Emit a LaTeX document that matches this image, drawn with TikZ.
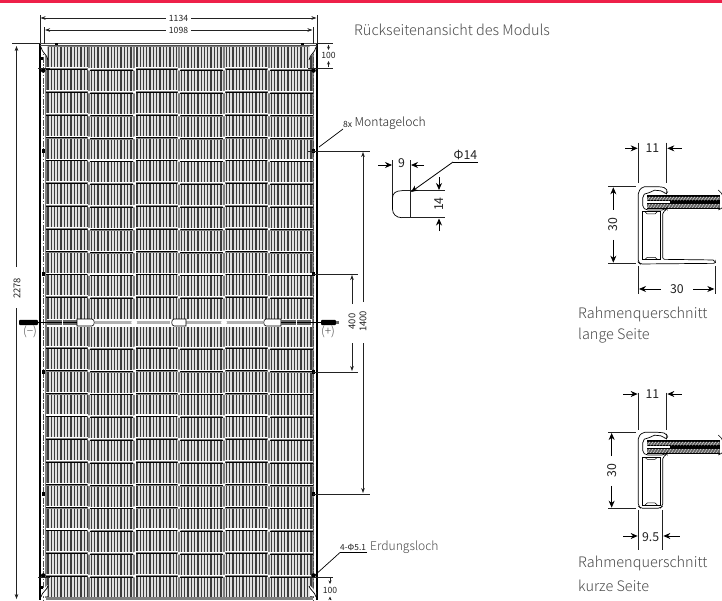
\documentclass[tikz,border=0pt]{standalone}
\usepackage{fontspec}
\setmainfont{Noto Sans CJK SC Light}
\newfontfamily\regfont{Noto Sans CJK SC}
\usetikzlibrary{arrows.meta}
\definecolor{txt}{HTML}{4A4A4A}
\definecolor{dimc}{HTML}{222222}
\definecolor{topbar}{HTML}{EE2049}
\tikzset{
  dimline/.style={draw=dimc,line width=.6pt},
  extline/.style={draw=dimc,line width=.7pt},
  arr/.style={dimline,-{Stealth[length=5pt,width=3.6pt]}},
  bigarr/.style={draw=black,line width=.8pt,-{Stealth[length=7pt,width=6pt]}},
  dimtext/.style={text=dimc,font=\regfont\fontsize{8.6}{10}\selectfont,inner sep=0pt},
  rottext/.style={text=dimc,font=\regfont\fontsize{9.4}{10}\selectfont,inner sep=0pt,rotate=90},
  bigtext/.style={text=dimc,font=\regfont\fontsize{12.3}{14}\selectfont,inner sep=0pt},
  label/.style={text=txt,font=\fontsize{12.1}{15}\selectfont,inner sep=0pt,anchor=west},
  caption/.style={text=txt,font=\fontsize{14.45}{17}\selectfont,inner sep=0pt,anchor=west},
  hole/.style={fill=black,draw=none},
}
\newcommand{\glassband}[2]{%
  \fill[black] (230,195) rectangle (#1,238);
  \fill[black!62] (230,200) rectangle (#1,211);
  \fill[black!62] (230,222) rectangle (#1,233);
  \foreach \gx in {232,241,...,#2}{
    \draw[white,line width=.35pt] (\gx,211) -- (\gx+8,200);
    \draw[white,line width=.35pt] (\gx,233) -- (\gx+8,222);
  }
  \fill[white] (230,213.5) rectangle (300,219);
  \draw[black,line width=.6pt] (445,180) .. controls (455,190) .. (458,197);
  \draw[black,line width=.6pt] (445,240) .. controls (452,238) and (454,234) .. (458,232);
}
\begin{document}
\begin{tikzpicture}[x=1pt,y=-1pt]
\useasboundingbox (0,0) rectangle (722,600);
\fill[white] (0,0) rectangle (722,600);
\fill[topbar] (0,0) rectangle (722,3);

% ---- panel cells
\foreach \xa/\xb in {46.5/88,90/133,135.5/178,180/223,225/268,270/312}{
  \fill[black!12] (\xa,47) rectangle (\xb,598);
  \pgfmathsetmacro{\xs}{\xa+1.4}
  \pgfmathsetmacro{\xn}{\xs+3.3}
  \foreach \sx in {\xs,\xn,...,\xb}{
    \draw[black!76,line width=1.3pt] (\sx,47) -- (\sx,598);
  }
}
% gaps between columns
\foreach \gx in {89,134.2,179,224,269}{
  \fill[black!50] (\gx-1.2,46) rectangle (\gx+1.2,598);
}
\fill[black!50] (44.5,46) rectangle (47,598);
\fill[black!50] (312,46) rectangle (313.5,598);
% row separators
\foreach \ry in {69.3,92.1,114.9,137.7,160.5,183.3,206.1,228.9,251.7,274.5,297.3,348,370.8,393.6,416.4,439.2,462,484.8,507.6,530.4,553.2,576}{
  \foreach \ca/\cb/\off in {46/88/0,90/133/.9,135.5/178/0,180/223/.9,225/268/0,270/313/.9}{
    \fill[white] (\ca,\ry+\off-2) rectangle (\cb,\ry+\off-.9);
    \fill[black!50] (\ca,\ry+\off-.9) rectangle (\cb,\ry+\off+.9);
    \draw[black,line width=.7pt] (\ca,\ry+\off) -- (\cb,\ry+\off);
  }
  \foreach \gx in {89,134.2,179,224,269}{
    \fill[white] (\gx,\ry) circle (1.6);
  }
}
\fill[black!50] (46,45) rectangle (313,47);
\fill[black!50] (46,597) rectangle (313,600);
% central strip
\fill[white] (47,318.5) rectangle (312,326.5);
\fill[black!60] (47,320) rectangle (77,325);
\draw[black,line width=.8pt] (47,322.5) -- (77,322.5);
\fill[white] (62,319) rectangle (63,326);
\draw[black,fill=white,line width=.6pt] (77,319) -- (92,319) .. controls (95,319) and (95,326) .. (92,326) -- (77,326) -- cycle;
\fill[black!30] (95,321.2) rectangle (170,323.8);
\fill[black!30] (186,321.2) rectangle (263,323.8);
\draw[black,fill=white,line width=.6pt] (174,319) -- (186,319) -- (186,326) -- (174,326) .. controls (171,326) and (171,319) .. (174,319);
\draw[black,fill=white,line width=.6pt] (281,319) -- (266,319) .. controls (263,319) and (263,326) .. (266,326) -- (281,326) -- cycle;
\fill[black!60] (281,320) rectangle (311,325);
\draw[black,line width=.8pt] (281,322.5) -- (311,322.5);
\fill[white] (296,319) rectangle (297,326);
\foreach \gx in {134.2,224}{\fill[white] (\gx,322.5) circle (3);}

% ---- frame
\draw[black,line width=1.5pt] (40,43) -- (40,600);
\draw[black,line width=1.5pt] (317,43) -- (317,600);
\draw[black!70,line width=.8pt] (37,43) -- (320,43);
\draw[black!70,line width=.6pt] (40,45.4) -- (317,45.4);
\fill[white] (41,46) rectangle (44.5,600);
\fill[white] (313.5,46) rectangle (316,600);
\draw[black!70,line width=.7pt,dash pattern=on 6pt off 1.5pt on 1.5pt off 1.5pt] (43.5,46) -- (43.5,600);
\draw[black!70,line width=.7pt,dash pattern=on 6pt off 1.5pt on 1.5pt off 1.5pt] (313.5,46) -- (313.5,600);
\fill[white] (41,46) -- (47.5,46) -- (47.5,58) -- (41,50) -- cycle;
\fill[white] (316,46) -- (309.5,46) -- (309.5,58) -- (316,50) -- cycle;
\draw[black,line width=.7pt] (41,47) .. controls (42,53) and (47,54) .. (48,60);
\draw[black,line width=.7pt] (316,47) .. controls (315,53) and (310,54) .. (309,60);
\fill[white] (41,596) -- (47.5,596) -- (47.5,585) -- (41,592) -- cycle;
\fill[white] (316,596) -- (309.5,596) -- (309.5,585) -- (316,592) -- cycle;
\draw[black,line width=.7pt] (41,597) .. controls (42,592) and (47,590) .. (48,586);
\draw[black,line width=.7pt] (316,597) .. controls (315,592) and (310,590) .. (309,586);
\fill[black] (55,42.5) rectangle (58,45);
\fill[black] (301,42.5) rectangle (304,45);
\fill[black] (41,57) rectangle (42.5,59.5);
\fill[black] (315.5,57) rectangle (317,59.5);
\fill[black] (41,586) rectangle (42.5,588.5);
\fill[black] (315.5,586) rectangle (317,588.5);

% ---- holes
\foreach \hx in {43.2,313.5}{
  \foreach \hy in {151,274,372,494}{
    \fill[black] (\hx-1.7,\hy-1.7) rectangle (\hx+1.7,\hy+1.7);
  }
  \fill[black] (\hx,70.5) circle (2.3);
  \fill[black] (\hx,575.5) circle (2.3);
}
\draw[extline] (38,68) -- (50,68);
\draw[extline] (38,577) -- (50,577);

% ---- cables
\draw[black,line width=.9pt] (37,322.5) -- (47,322.5);
\fill[black,rounded corners=1pt] (19,319.8) rectangle (38,325.2);
\draw[black,line width=.9pt] (311,322.5) -- (321,322.5);
\fill[black,rounded corners=1pt] (321,319.8) rectangle (336,325.2);
\fill[black!60] (336,321.2) rectangle (339,323.8);
\node[text=txt,inner sep=0pt,font=\fontsize{12}{13}\selectfont] (minus) at (30,331.8) {(−)};
\node[text=txt,inner sep=0pt,font=\fontsize{12}{13}\selectfont] (plus) at (328,331.8) {(+)};

% ---- dims: top
\draw[extline] (40,15) -- (40,43);
\draw[extline] (317,15) -- (317,43);
\draw[extline] (44.5,27) -- (44.5,44);
\draw[extline] (313,27) -- (313,44);
\node[dimtext] (d1134) at (178.5,18) {1134};
\node[dimtext] (d1098) at (178.5,30) {1098};
\draw[arr] (d1134.west)++(-3,0) -- (40.6,18);
\draw[arr] (d1134.east)++(3,0) -- (316.4,18);
\draw[arr] (d1098.west)++(-3,0) -- (45.1,30);
\draw[arr] (d1098.east)++(3,0) -- (312.4,30);

% ---- dims: 2278
\draw[extline] (12,43) -- (40,43);
\node[rottext] (d2278) at (17,288.5) {2278};
\draw[arr] (16.5,267) -- (16.5,46);
\draw[arr] (16.5,308) -- (16.5,599);

% ---- dims: 100
\draw[extline] (317,43) -- (333,43);
\draw[extline] (308,68) -- (333,68);
\node[dimtext] (d100a) at (328.5,55.5) {100};
\draw[arr,-{Stealth[length=3.5pt,width=3pt]}] (328.5,44.5) -- (328.5,50) ;
\draw[arr,-{Stealth[length=3.5pt,width=3pt]}] (328.5,67) -- (328.5,61) ;
\draw[extline] (309,577) -- (333,577);
\node[dimtext] (d100b) at (330,590.5) {100};
\draw[arr,-{Stealth[length=3.5pt,width=3pt]}] (330,578) -- (330,584);
\draw[arr,-{Stealth[length=3.5pt,width=3pt]}] (330,600) -- (330,596.5);

% ---- Montageloch
\draw[extline] (308,151) -- (370,151);
\draw[extline] (313,274) -- (358,274);
\draw[extline] (313,372) -- (358,372);
\draw[extline] (313,494) -- (370,494);
\node[rottext] (d400) at (352,321.5) {400};
\node[rottext] (d1400) at (363,321.5) {1400};
\draw[arr] (352,304) -- (352,275);
\draw[arr] (352,343) -- (352,371);
\draw[arr] (363,302) -- (363,152);
\draw[arr] (363,343) -- (363,493);
\draw[black,line width=.7pt] (319,147) -- (343,129);
\node[dimtext,anchor=west,font=\regfont\fontsize{8.6}{10}\selectfont] (eight) at (343,124.5) {8x};
\node[label,text=dimc] (mont) at (354.5,123) {Montageloch};

% ---- slot detail
\draw[extline] (392.5,160) -- (392.5,205);
\draw[extline] (410,160) -- (410,217.5);
\draw[extline] (402,190.7) -- (445,190.7);
\draw[extline] (402,217.7) -- (445,217.7);
\draw[black,line width=.7pt] (402,190.7) .. controls (396,190.7) and (392.5,193) .. (392.5,198)
  -- (392.5,209) .. controls (392.5,214) and (396,217.7) .. (402,217.7);
\node[bigtext] (d9) at (401.5,163.5) {9};
\node[bigtext] (phi) at (465.5,155) {Φ14};
\node[bigtext,rotate=90] (d14) at (439,204) {14};
\draw[bigarr] (378,165) -- (392,165);
\draw[bigarr] (424,165) -- (411,165);
\draw[bigarr] (439,177) -- (439,190);
\draw[bigarr] (439,231) -- (439,218.5);
\draw[black,line width=.7pt] (478,162) -- (453,162);
\draw[bigarr] (453,162) -- (411,192);

% ---- Erdungsloch
\draw[black,line width=.7pt] (367,552.5) -- (340,552.5);
\draw[black,line width=.7pt] (340,552.5) -- (314,576);
\node[dimtext,anchor=west,font=\regfont\fontsize{8.3}{9}\selectfont] (fourphi) at (340,547.5) {4-Φ5.1};
\node[label,text=txt] (erd) at (370,547.5) {Erdungsloch};

% ---- texts
\node[caption] (title) at (354,29.5) {Rückseitenansicht des Moduls};
\node[caption] (cap1) at (578,314.5) {Rahmenquerschnitt};
\node[caption] (cap1b) at (578,336) {lange Seite};
\node[caption] (cap2) at (578,563.5) {Rahmenquerschnitt};
\node[caption] (cap2b) at (578,585.5) {kurze Seite};

% ---- section 1
\begin{scope}[shift={(570,130)},x=.3333pt,y=-.3333pt]
\glassband{450}{440}
\draw[black,line width=.7pt,rounded corners=2pt]
  (205,397) -- (205,185) -- (218,170) -- (270,170) -- (288,174) -- (293,185) -- (288,193) -- (278,183) -- (248,180) -- (240,190) -- (228,188) -- (218,198) -- (218,232) -- (228,240) -- (282,240) -- (291,232) -- (291,238) -- (278,246) -- (278,388) -- (435,390) -- (437,400) -- (210,402) -- cycle;
\draw[black,line width=.7pt] (218,245) -- (270,245) -- (270,388) -- (218,388) -- cycle;
\draw[black,line width=.5pt] (225,245) -- (232,252) -- (255,252) -- (262,245);
\draw[black,line width=.5pt] (225,388) -- (232,382) -- (255,382) -- (262,388);
\draw[extline] (205,38) -- (205,160);
\draw[extline] (290,38) -- (290,160);
\draw[bigarr] (165,55) -- (203,55);
\draw[bigarr] (335,55) -- (292,55);
\node[bigtext] (s11) at (247,55) {11};
\draw[extline] (115,170) -- (198,170);
\draw[extline] (115,400) -- (198,400);
\node[bigtext,rotate=90] (s30v) at (130,285) {30};
\draw[bigarr] (130,240) -- (130,172);
\draw[bigarr] (130,330) -- (130,398);
\draw[extline] (205,408) -- (205,492);
\draw[extline] (435,408) -- (435,492);
\node[bigtext] (s30h) at (321,477) {30};
\draw[bigarr] (272,477) -- (207,477);
\draw[bigarr] (370,477) -- (433,477);
\end{scope}

% ---- section 2
\begin{scope}[shift={(570,380)},x=.3333pt,y=-.3333pt]
\begin{scope}[yshift=5pt]
\glassband{450}{440}
\end{scope}
\draw[black,line width=.7pt,rounded corners=2pt]
  (205,378) -- (205,170) -- (218,157) -- (270,157) -- (288,160) -- (293,170) -- (288,178) -- (278,168) -- (248,165) -- (240,175) -- (228,173) -- (218,183) -- (218,217) -- (228,225) -- (282,225) -- (291,217) -- (291,223) -- (278,231) -- (278,378) -- (270,385) -- (212,385) -- cycle;
\draw[black,line width=.7pt] (218,232) -- (270,232) -- (270,375) -- (218,375) -- cycle;
\draw[black,line width=.5pt] (225,232) -- (232,238) -- (255,238) -- (262,232);
\draw[black,line width=.5pt] (225,375) -- (232,369) -- (255,369) -- (262,375);
\draw[extline] (205,38) -- (205,150);
\draw[extline] (290,38) -- (290,150);
\draw[bigarr] (160,42) -- (203,42);
\draw[bigarr] (335,42) -- (292,42);
\node[bigtext] (t11) at (247,43) {11};
\draw[extline] (115,157) -- (198,157);
\draw[extline] (115,385) -- (198,385);
\node[bigtext,rotate=90] (t30) at (125,272) {30};
\draw[bigarr] (125,228) -- (125,159);
\draw[bigarr] (125,318) -- (125,383);
\draw[extline] (205,390) -- (205,510);
\draw[extline] (278,390) -- (278,510);
\draw[bigarr] (160,468) -- (203,468);
\draw[bigarr] (330,468) -- (280,468);
\node[bigtext] (t95) at (242,470) {9.5};
\end{scope}
\end{tikzpicture}
\end{document}
